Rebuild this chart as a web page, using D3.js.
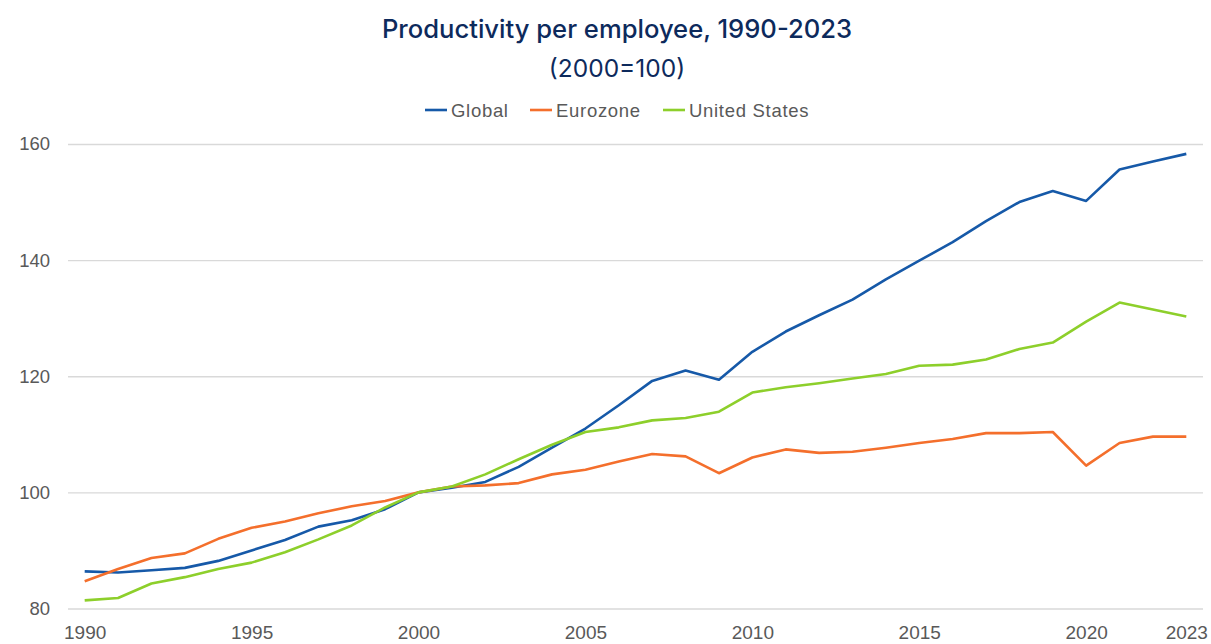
<!DOCTYPE html>
<html>
<head>
<meta charset="utf-8">
<script src="https://cdn.jsdelivr.net/npm/d3@7"></script>
<style>
  html, body { margin: 0; padding: 0; background: #fff; }
  svg { display: block; }
</style>
</head>
<body>
<svg id="chart" width="1211" height="644"></svg>
<script>
// Productivity per employee index, 2000 = 100
const years = d3.range(1990, 2024);
const tickYears = [1990, 1995, 2000, 2005, 2010, 2015, 2020, 2023];
const yTicks = [80, 100, 120, 140, 160];

const globalIdx = [86.4, 86.2, 86.6, 87.0, 88.2, 90.0, 91.8, 94.1, 95.2, 97.1,
  100.0, 100.8, 101.8, 104.4, 107.7, 111.0, 115.0, 119.2, 121.0, 119.4,
  124.2, 127.7, 130.5, 133.2, 136.7, 139.9, 143.1, 146.7, 150.0, 151.9,
  150.2, 155.6, 157.0, 158.3];
const eurozoneIdx = [84.7, 86.8, 88.7, 89.5, 92.0, 93.9, 95.0, 96.4, 97.6, 98.5,
  100.0, 101.0, 101.2, 101.6, 103.1, 103.9, 105.3, 106.6, 106.2, 103.3,
  106.0, 107.4, 106.8, 107.0, 107.7, 108.5, 109.2, 110.2, 110.2, 110.4,
  104.6, 108.5, 109.6, 109.6];
const usIdx = [81.4, 81.8, 84.3, 85.4, 86.8, 87.9, 89.7, 91.9, 94.3, 97.4,
  100.0, 101.0, 103.1, 105.7, 108.2, 110.4, 111.2, 112.4, 112.8, 113.9,
  117.2, 118.1, 118.8, 119.6, 120.4, 121.8, 122.0, 122.9, 124.7, 125.8,
  129.4, 132.7, 131.5, 130.3];

const seriesNames = ["Global", "Eurozone", "United States"];
const seriesValues = [globalIdx, eurozoneIdx, usIdx];
const seriesColors = ["#1659a8", "#f46f2c", "#8dcf2b"];

const svg = d3.select("#chart");
const plot = { left: 68, right: 1203, top: 144, bottom: 608.5 };

const x = d3.scalePoint().domain(years).range([plot.left, plot.right]).padding(0.5);
const y = d3.scaleLinear().domain([80, 160]).range([plot.bottom, plot.top]);

// Title block
svg.append("text")
  .attr("x", 617).attr("y", 38)
  .attr("text-anchor", "middle")
  .attr("font-family", "Inter, 'Noto Sans', sans-serif")
  .attr("font-weight", 500)
  .attr("font-size", 25.6)
  .attr("fill", "#0d2a5c")
  .text("Productivity per employee, 1990-2023");
svg.append("text")
  .attr("x", 617).attr("y", 77)
  .attr("text-anchor", "middle")
  .attr("font-family", "Inter, 'Noto Sans', sans-serif")
  .attr("font-size", 24.5)
  .attr("fill", "#0d2a5c")
  .text("(2000=100)");

// Gridlines + y labels
const yAxis = d3.axisLeft(y).tickValues(yTicks)
  .tickSize(-(plot.right - plot.left)).tickPadding(18);
const gy = svg.append("g").attr("transform", `translate(${plot.left},0)`).call(yAxis);
gy.select(".domain").remove();
gy.selectAll(".tick line").attr("stroke", "#d9d9d9").attr("stroke-width", 1.3);
gy.selectAll(".tick text")
  .attr("font-family", "'Liberation Sans', Arial, sans-serif")
  .attr("font-size", 18.5).attr("fill", "#595959");

// x labels
const xAxis = d3.axisBottom(x).tickValues(tickYears).tickSize(0).tickPadding(17);
const gx = svg.append("g").attr("transform", `translate(0,${plot.bottom})`).call(xAxis);
gx.select(".domain").remove();
gx.selectAll(".tick text")
  .attr("font-family", "'Liberation Sans', Arial, sans-serif")
  .attr("font-size", 19).attr("fill", "#595959");

// Lines
const line = d3.line().x((d, i) => x(years[i])).y(d => y(d));
seriesValues.forEach((vals, k) => {
  svg.append("path")
    .datum(vals)
    .attr("fill", "none")
    .attr("stroke", seriesColors[k])
    .attr("stroke-width", 2.6)
    .attr("stroke-linejoin", "round")
    .attr("d", line);
});

// Legend
const legendX = [425, 530, 663];
const lg = svg.append("g");
seriesNames.forEach((name, k) => {
  const g = lg.append("g").attr("transform", `translate(${legendX[k]},110)`);
  g.append("line").attr("x1", 0).attr("x2", 22).attr("y1", 0).attr("y2", 0)
    .attr("stroke", seriesColors[k]).attr("stroke-width", 2.6);
  g.append("text").attr("x", 26).attr("y", 6.5)
    .attr("font-family", "'Liberation Sans', Arial, sans-serif")
    .attr("font-size", 18.5).attr("letter-spacing", 0.7).attr("fill", "#595959")
    .text(name);
});
</script>
</body>
</html>
